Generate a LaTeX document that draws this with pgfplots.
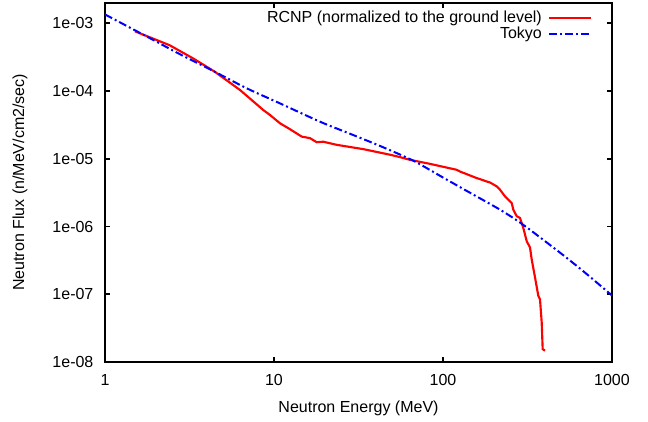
\documentclass[border=0pt]{standalone}
\usepackage{fontspec}
\setmainfont{Liberation Sans}
\usepackage{pgfplots}
\pgfplotsset{compat=1.18}

% RCNP spectrum
\pgfplotstableread{
E flux
1.505 7.63e-4
2.42 4.74e-4
3.33 3.03e-4
4.48 1.92e-4
6.29 1.04e-4
8.64 5.26e-5
9.47 4.44e-5
10.85 3.35e-5
12.43 2.74e-5
14.59 2.13e-5
16.33 2.02e-5
17.89 1.76e-5
19.57 1.79e-5
23.5 1.61e-5
33.8 1.39e-5
48.6 1.15e-5
55.7 1.06e-5
63.8 9.66e-6
83.8 8.43e-6
120.5 6.89e-6
126 6.5e-6
158.2 5.2e-6
165.5 5.02e-6
181.4 4.63e-6
189.7 4.48e-6
207.9 3.92e-6
217.4 3.5e-6
232.8 2.79e-6
243.5 2.5e-6
255 2.23e-6
260.6 1.78e-6
273 1.42e-6
285.5 1.34e-6
298.6 9.57e-7
312.9 6.08e-7
327.2 4.91e-7
334.9 3.27e-7
350.3 1.78e-7
366.6 9.44e-8
375 8.43e-8
383.7 3.87e-8
389 1.55e-8
401.5 1.47e-8
}\rcnp

\pgfplotstableread{
E flux
1 1.355e-3
1.5 7.94e-4
2 5.43e-4
2.78 3.5e-4
4.36 1.99e-4
6.9 1.1e-4
10.85 6.59e-5
18.7 3.54e-5
28 2.36e-5
42.4 1.55e-5
66.4 9.44e-6
100 5.3e-6
140 3.3e-6
189.7 2.16e-6
217.4 1.78e-6
297 1.07e-6
500 4.0e-7
700 2.04e-7
1000 9.6e-8
}\tokyo

\begin{document}
\fontsize{12}{14}\selectfont
\begin{tikzpicture}
\begin{axis}[name=ax,
  scale only axis, width=380.25pt, height=269.25pt,
  xmode=log, ymode=log,
  xmin=1, xmax=1000, ymin=1e-8, ymax=2e-3,
  xtick={1,10,100,1000}, xticklabels={1,10,100,1000},
  ytick={1e-8,1e-7,1e-6,1e-5,1e-4,1e-3},
  yticklabels={1e-08,1e-07,1e-06,1e-05,1e-04,1e-03},
  xminorticks=false, yminorticks=false,
  tick align=inside, major tick length=4pt,
  every tick/.style={black, line width=1.4pt},
  axis line style={line width=1.8pt},
  xticklabel style={yshift=-5pt},
  yticklabel style={xshift=-4.5pt},
  xlabel={Neutron Energy (MeV)},
  ylabel={Neutron Flux (n/MeV/cm2/sec)},
  x label style={at={(axis description cs:0.5,-0.128)}, anchor=center},
  y label style={at={(axis description cs:-0.1677,0.5)}, anchor=center},
  legend plot pos=right, legend cell align=right,
  legend image code/.code={\draw[#1] (0pt,0pt) -- (31pt,0pt);},
  legend style={draw=none, fill=none, at={(rel axis cs:1,1)}, anchor=north east,
    xshift=-12pt, yshift=-3pt, row sep=0pt, column sep=4pt,
    nodes={inner sep=0.8pt}},
]
\addplot[red, line width=1.6pt] table[x=E, y=flux] {\rcnp};
\addlegendentry{RCNP (normalized to the ground level)}
\addplot[blue, line width=1.5pt, smooth,
  dash pattern=on 6pt off 2.25pt on 1.5pt off 2.25pt] table[x=E, y=flux] {\tokyo};
\addlegendentry{Tokyo}
\end{axis}
\path ([shift={(-78.75pt,-44.25pt)}]ax.south west) rectangle ([shift={(27pt,2.25pt)}]ax.north east);
\end{tikzpicture}
\end{document}
